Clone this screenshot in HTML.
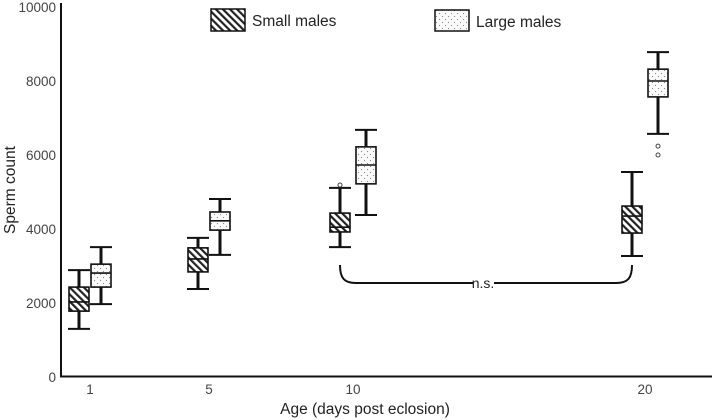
<!DOCTYPE html>
<html><head><meta charset="utf-8">
<style>
html,body{margin:0;padding:0;background:#fff;}
svg{display:block;font-family:"Liberation Sans",sans-serif;}
</style></head>
<body>
<svg id="chart" width="714" height="420" viewBox="0 0 714 420">
<defs>
<pattern id="hatch" patternUnits="userSpaceOnUse" width="5" height="5" patternTransform="rotate(-45)">
<rect width="5" height="5" fill="#fff"/><rect x="0" y="0" width="2.2" height="5" fill="#222"/>
</pattern>
<pattern id="dots" patternUnits="userSpaceOnUse" width="6" height="6">
<rect width="6" height="6" fill="#fafafa"/><circle cx="1.5" cy="1.5" r="0.6" fill="#888"/><circle cx="4.5" cy="4.5" r="0.6" fill="#888"/>
</pattern>
</defs>
<g id="axes"></g>
<g id="marks"></g>
<g>
<rect x="211" y="9" width="34" height="22" fill="url(#hatch)" stroke="#111" stroke-width="1.5"/>
<text x="252" y="26" font-size="15.5" fill="#222">Small males</text>
<rect x="435" y="10" width="34" height="21" fill="url(#dots)" stroke="#111" stroke-width="1.5"/>
<text x="476" y="27" font-size="15.5" fill="#222">Large males</text>
</g>
<text x="15" y="190" font-size="15.5" fill="#222" text-anchor="middle" transform="rotate(-90 15 190)">Sperm count</text>
<text x="365" y="414" font-size="15.5" fill="#222" text-anchor="middle">Age (days post eclosion)</text>
</svg>
<script>
const days = [1, 5, 10, 20];
const yTicks = [0, 2000, 4000, 6000, 8000, 10000];
// [lowWhisker, q1, median, q3, highWhisker]
const smallStats = [[1300,1780,2030,2430,2890],[2380,2840,3190,3490,3760],[3510,3920,4050,4430,5110],[3270,3890,4350,4620,5540]];
const largeStats = [[1970,2430,2810,3050,3510],[3300,3970,4220,4460,4810],[4380,5220,5730,6220,6680],[6570,7570,8000,8320,8780]];
const smallOutliers = [[],[],[5190],[]];
const largeOutliers = [[],[],[],[6240,6000]];

const NS = "http://www.w3.org/2000/svg";
function y(v){ return 377 - v*0.037; }
const dayKnots=[1,5,10,20], pxKnots=[90,209,353,645];
function x(d){
  for(let i=0;i<dayKnots.length-1;i++){
    if(d<=dayKnots[i+1]){const t=(d-dayKnots[i])/(dayKnots[i+1]-dayKnots[i]);return pxKnots[i]+t*(pxKnots[i+1]-pxKnots[i]);}
  }
  return pxKnots[pxKnots.length-1];
}
function mk(tag, attrs, parent){
  const e=document.createElementNS(NS,tag);
  for(const k in attrs) e.setAttribute(k,attrs[k]);
  parent.appendChild(e); return e;
}
const axes=document.getElementById('axes'), marks=document.getElementById('marks');
let e;
e=mk('line',{x1:61,y1:3,x2:61,y2:377,stroke:'#111','stroke-width':2},axes);


e=mk('line',{x1:60,y1:376.5,x2:712,y2:376.5,stroke:'#111','stroke-width':2},axes);


yTicks.forEach(v=>{
  const t=mk('text',{x:56,y:y(v)+5,'font-size':13.5,fill:'#444','text-anchor':'end'},axes);
  t.textContent=v;
  
  
});
days.forEach(d=>{
  const t=mk('text',{x:x(d),y:394,'font-size':13.5,fill:'#444','text-anchor':'middle'},axes);
  t.textContent=d;
  
  
});
function drawBox(cx, s, fill, name, outs){
  const g=mk('g',{},marks);
  
  
  const w=20, cw=11;
  mk('line',{x1:cx,y1:y(s[0]),x2:cx,y2:y(s[4]),stroke:'#111','stroke-width':3},g);
  mk('line',{x1:cx-cw,y1:y(s[0]),x2:cx+cw,y2:y(s[0]),stroke:'#111','stroke-width':2},g);
  mk('line',{x1:cx-cw,y1:y(s[4]),x2:cx+cw,y2:y(s[4]),stroke:'#111','stroke-width':2},g);
  mk('rect',{x:cx-w/2,y:y(s[3]),width:w,height:y(s[1])-y(s[3]),fill:fill,stroke:'#111','stroke-width':1.6},g);
  mk('line',{x1:cx-w/2,y1:y(s[2]),x2:cx+w/2,y2:y(s[2]),stroke:'#111','stroke-width':1.6},g);
  outs.forEach(o=>{ mk('circle',{cx:cx,cy:y(o),r:2,fill:'none',stroke:'#444','stroke-width':1},g); });
}
days.forEach((d,i)=>{
  const off = d>=10 ? 13 : 11;
  drawBox(x(d)-off, smallStats[i], 'url(#hatch)', 'box-small-day'+d, smallOutliers[i]);
  drawBox(x(d)+off, largeStats[i], 'url(#dots)', 'box-large-day'+d, largeOutliers[i]);
});
// significance bracket
const bx1=x(10)-13, bx2=x(20)-13;
e=mk('path',{d:`M${bx1},265 C${bx1},278 ${bx1+4},283 ${bx1+16},283 L473,283 M494,283 L${bx2-16},283 C${bx2-4},283 ${bx2},278 ${bx2},265`,fill:'none',stroke:'#111','stroke-width':2},marks);


e=mk('text',{x:483,y:288,'font-size':14,fill:'#222','text-anchor':'middle'},marks);
e.textContent='n.s.';


</script>
</body></html>
